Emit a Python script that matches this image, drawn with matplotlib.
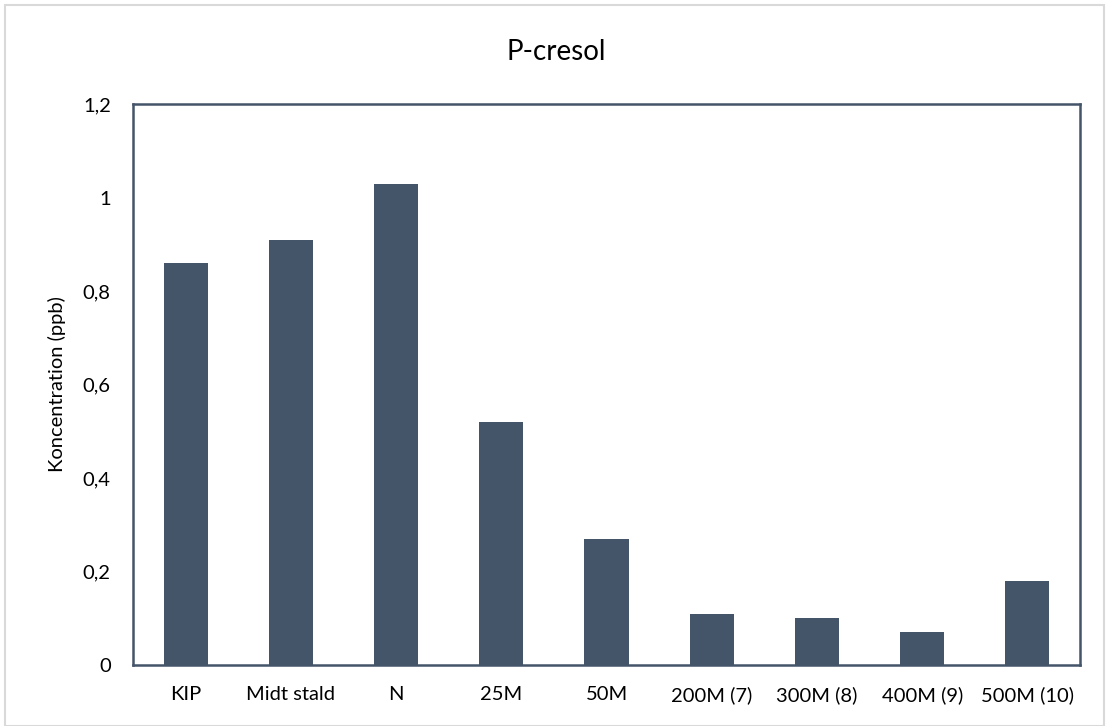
import matplotlib
matplotlib.use("Agg")
import matplotlib.pyplot as plt
from matplotlib.patches import Rectangle

plt.rcParams['font.family'] = ['Lato', 'DejaVu Sans']

categories = ["KIP", "Midt stald", "N", "25M", "50M", "200M (7)", "300M (8)", "400M (9)", "500M (10)"]
values = [0.86, 0.91, 1.03, 0.52, 0.27, 0.11, 0.10, 0.07, 0.18]
yticks = [0, 0.2, 0.4, 0.6, 0.8, 1.0, 1.2]
yticklabels = ["0", "0,2", "0,4", "0,6", "0,8", "1", "1,2"]

fig = plt.figure(figsize=(11.06, 7.26), dpi=100)
fig.patches.append(Rectangle((5 / 1106, 0), 1099 / 1106, 721 / 726, transform=fig.transFigure,
                             fill=False, edgecolor="#d9d9d9", linewidth=1.5))
ax = fig.add_axes([0.1203, 0.084, 0.8562, 0.7727])

x = range(len(categories))
ax.bar(x, values, width=0.42, color="#445469")

ax.set_xlim(-0.5, len(categories) - 0.5)
ax.set_ylim(0, 1.2)
ax.set_yticks(yticks)
ax.set_yticklabels(yticklabels)
ax.set_xticks(list(x))
ax.set_xticklabels(categories)
ax.tick_params(length=0, labelsize=14.5, colors="#000000", pad=15)
ax.tick_params(axis="y", pad=16)
for s in ax.spines.values():
    s.set_color("#445469")
    s.set_linewidth(1.8)

ax.set_ylabel("Koncentration (ppb)", fontsize=14.5, labelpad=12)
fig.text(0.503, 0.928, "P-cresol", ha="center", va="center", fontsize=20)

fig.savefig("out.png", dpi=100)
